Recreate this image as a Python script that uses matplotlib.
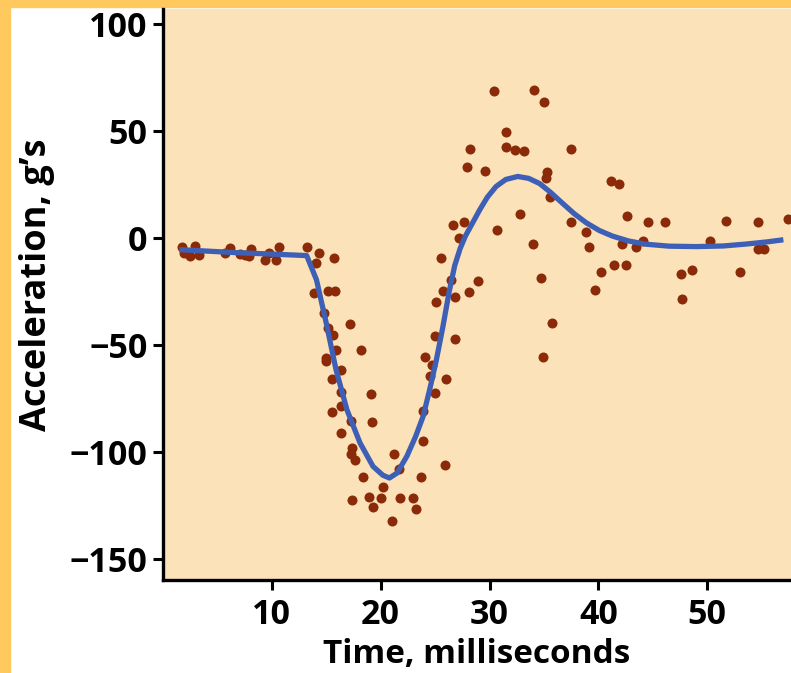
import matplotlib
matplotlib.use("Agg")
import matplotlib.pyplot as plt
from matplotlib.patches import Rectangle

# measured points (time in ms, acceleration in g's)
time_ms = [
    1.7, 1.9, 2.5, 2.9, 3.3, 5.7, 6.2, 7.1, 7.5, 7.9, 8.1, 9.4, 9.7, 10.4, 10.7, 13.2,
    14.3, 14.1, 15.7, 13.9, 15.2, 15.8, 14.8, 15.2, 15.6, 17.2, 18.2, 15.0, 15.0, 15.9,
    16.4, 15.5, 16.4, 19.1, 15.5, 16.4, 19.2, 17.3, 16.4, 17.4, 17.3, 17.6, 18.4, 21.2,
    21.7, 20.2, 17.4, 18.9, 20.0, 19.3, 21.8, 23.0, 23.2, 21.0, 23.7, 23.9, 25.9, 23.9,
    25.0, 26.0, 24.5, 24.1, 24.7, 26.8, 25.0, 25.1, 25.7, 26.8, 26.5, 28.1, 28.9, 25.5,
    27.2, 30.4, 34.1, 35.0, 31.5, 31.5, 32.3, 33.2, 28.2, 27.9, 29.6, 37.5, 35.3, 35.2,
    35.6, 41.2, 41.9, 32.8, 30.7, 34.0, 37.5, 38.9, 39.1, 42.6, 44.6, 46.1, 42.2, 43.5,
    44.1, 50.3, 51.7, 54.7, 54.7, 55.2, 57.4, 40.2, 41.4, 42.5, 39.7, 47.6, 48.6, 47.7,
    53.0, 34.7, 35.7, 34.9, 26.6, 27.7,
]
accel_g = [
    -4.1, -7.2, -8.4, -3.7, -7.9, -6.9, -4.8, -7.5, -7.9, -8.4, -5.3, -10.6, -6.9, -10.6, -4.1, -4.1,
    -7.2, -11.8, -9.5, -25.9, -25.0, -25.0, -35.0, -42.0, -45.3, -40.2, -52.3, -56.2, -57.8, -52.3,
    -61.7, -65.9, -72.3, -73.0, -81.5, -78.8, -86.1, -85.8, -91.3, -98.3, -100.9, -104.0, -111.8, -101.1,
    -108.0, -116.7, -122.7, -121.2, -121.6, -125.8, -121.6, -121.6, -126.8, -132.2, -111.7, -94.9, -106.1, -81.1,
    -72.6, -66.0, -64.8, -55.5, -59.3, -47.3, -46.1, -29.8, -24.8, -27.9, -19.6, -25.4, -20.4, -9.5,
    -0.2, 68.7, 69.2, 63.7, 49.4, 42.5, 41.0, 40.5, 41.7, 33.0, 31.3, 41.6, 31.0, 27.9,
    19.0, 26.6, 25.1, 11.2, 3.7, -2.8, 7.2, 2.8, -4.5, 10.4, 7.6, 7.6, -2.8, -4.5,
    -1.7, -1.7, 8.1, 7.6, -5.3, -5.3, 8.9, -16.0, -12.9, -12.9, -24.3, -17.0, -15.0, -28.6,
    -16.2, -18.8, -39.6, -55.7, 5.8, 7.3,
]

# fitted curve
fit_t = [1.5, 4.0, 7.0, 10.0, 13.2, 14.1, 15.0, 15.9, 16.9, 18.1, 19.3, 20.2, 20.8, 21.5,
         22.4, 23.2, 23.9, 24.5, 25.1, 25.7, 26.3, 26.8, 27.3, 27.8, 28.5, 29.1, 29.8, 30.6,
         31.5, 32.6, 33.6, 34.6, 35.6, 36.7, 37.8, 38.9, 40.1, 41.3, 42.8, 44.4, 46.5, 49.0,
         51.5, 53.6, 55.5, 57.0]
fit_g = [-5.5, -6.2, -7.0, -7.6, -8.3, -19.6, -39.9, -61.7, -80.4, -95.9, -106.9, -111.0, -112.3, -110.0,
         -102.2, -93.0, -83.5, -71.0, -57.5, -42.0, -25.0, -13.0, -5.0, 1.0, 7.5, 13.1, 19.0, 24.0,
         27.3, 28.7, 27.8, 25.4, 21.3, 16.2, 11.2, 7.0, 3.4, 0.8, -1.5, -3.0, -3.9, -4.1,
         -3.8, -2.9, -1.9, -0.9]

xticks = [10, 20, 30, 40, 50]
yticks = [100, 50, 0, -50, -100, -150]

plt.rcParams['font.family'] = ['Open Sans', 'DejaVu Sans']
plt.rcParams['font.weight'] = 'bold'

fig = plt.figure(figsize=(7.91, 6.73), dpi=100)
fig.patch.set_facecolor('white')

# orange page borders
fig.add_artist(Rectangle((0, 0), 10 / 791, 1, transform=fig.transFigure, color='#FFC95E', zorder=0))
fig.add_artist(Rectangle((0, 1 - 7 / 673), 1, 7 / 673, transform=fig.transFigure, color='#FFC95E', zorder=0))

ax = fig.add_axes([163 / 791, 1 - 580 / 673, 1 - 163 / 791, (580 - 9) / 673])
ax.set_facecolor('#FCE2B8')

ax.scatter(time_ms, accel_g, s=52, color='#8A2A08', zorder=2, linewidths=0)
ax.plot(fit_t, fit_g, color='#3D5FB5', lw=3.8, zorder=3, solid_capstyle='butt')

ax.set_xlim(0, 57.7)
ax.set_ylim(-160, 107)
ax.set_xticks(xticks)
ax.set_yticks(yticks)
ax.tick_params(direction='out', length=7, width=2.2, labelsize=24.5, pad=4)
ax.tick_params(axis='x', pad=6)

for side in ['top', 'right']:
    ax.spines[side].set_visible(False)
for side in ['left', 'bottom']:
    ax.spines[side].set_linewidth(2.4)

ax.set_xlabel('Time, milliseconds', fontsize=24, fontweight='bold', labelpad=4)
ax.set_ylabel('Acceleration, g’s', fontsize=26, fontweight='bold')
ax.yaxis.set_label_coords(-0.172, 0.517)

fig.savefig('out.png', dpi=100)
